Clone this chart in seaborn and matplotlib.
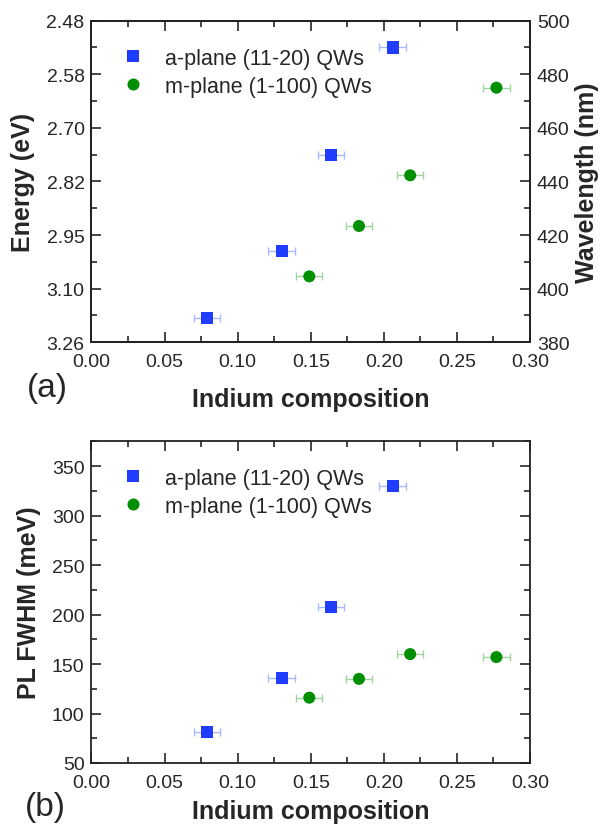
"""Emission energy / wavelength and PL FWHM versus indium composition
for a-plane and m-plane InGaN QWs."""
import matplotlib.pyplot as plt
import numpy as np
import pandas as pd
import seaborn as sns
from matplotlib.ticker import MultipleLocator

# data
a_x = [0.079, 0.130, 0.164, 0.206]
a_wl = [389.0, 414.0, 450.0, 490.0]
a_fwhm = [81, 136, 208, 330]
m_x = [0.149, 0.183, 0.218, 0.277]
m_wl = [404.6, 423.4, 442.3, 475.0]
m_fwhm = [116, 135, 160, 157]
x_err = 0.009
fwhm_err = 5

labels = ['a-plane (11-20) QWs', 'm-plane (1-100) QWs']
energy_ticks = ['2.48', '2.58', '2.70', '2.82', '2.95', '3.10', '3.26']
wl_ticks = [500, 480, 460, 440, 420, 400, 380]

blue = '#1f3cff'
green = '#008f00'
blue_err = '#aab8ff'
green_err = '#9fd49f'

df = pd.concat([
    pd.DataFrame({'x': a_x, 'wl': a_wl, 'fwhm': a_fwhm, 'sample': labels[0]}),
    pd.DataFrame({'x': m_x, 'wl': m_wl, 'fwhm': m_fwhm, 'sample': labels[1]}),
])

sns.set_style('ticks')
plt.rcParams['font.family'] = ['Liberation Sans', 'DejaVu Sans']
plt.rcParams['xtick.direction'] = 'in'
plt.rcParams['ytick.direction'] = 'in'

fig = plt.figure(figsize=(6.03, 8.28), dpi=100)
ax1 = fig.add_axes([0.1517, 0.5854, 0.7273, 0.3884])
ax2 = fig.add_axes([0.1517, 0.0773, 0.7273, 0.3885])

palette = {labels[0]: blue, labels[1]: green}
markers = {labels[0]: 's', labels[1]: 'o'}


def style_axis(ax, xpad):
    ax.set_xlim(0, 0.30)
    ax.xaxis.set_minor_locator(MultipleLocator(0.025))
    ax.set_xticks(np.arange(0, 0.301, 0.05))
    ax.set_xticklabels([f'{v:.2f}' for v in np.arange(0, 0.301, 0.05)])
    ax.tick_params(axis='both', which='major', length=7, width=1.2,
                   labelsize=14, top=True, pad=5)
    ax.tick_params(axis='x', which='major', pad=8)
    ax.tick_params(axis='both', which='minor', length=4, width=1.2, top=True)
    for s in ax.spines.values():
        s.set_linewidth(1.3)
        s.set_color('#222222')
    ax.set_xlabel('Indium composition', fontsize=18, fontweight='bold',
                  labelpad=xpad)


def legend(ax, top):
    ax.legend(loc='upper left', bbox_to_anchor=(0.046, top), frameon=False,
              fontsize=15.5, handletextpad=0.5, labelspacing=0.32,
              borderpad=0, borderaxespad=0)


# ---- panel (a): energy / wavelength
ax1.errorbar(a_x, a_wl, xerr=x_err, fmt='none', ecolor=blue_err,
             elinewidth=1, capsize=3, zorder=1)
ax1.errorbar(m_x, m_wl, xerr=x_err, fmt='none', ecolor=green_err,
             elinewidth=1, capsize=3, zorder=1)
sns.scatterplot(data=df, x='x', y='wl', hue='sample', style='sample',
                palette=palette, markers=markers, s=75, linewidth=0,
                ax=ax1, zorder=3)
ax1.set_ylim(380, 500)
ax1.set_yticks(wl_ticks)
ax1.set_yticklabels(energy_ticks)
ax1.yaxis.set_minor_locator(MultipleLocator(10))
style_axis(ax1, 12)
ax1.set_ylabel('Energy (eV)', fontsize=18, fontweight='bold', labelpad=8)
legend(ax1, 0.915)

ax1r = ax1.twinx()
ax1r.set_ylim(380, 500)
ax1r.yaxis.set_major_locator(MultipleLocator(20))
ax1r.yaxis.set_minor_locator(MultipleLocator(10))
ax1r.tick_params(axis='y', which='major', length=7, width=1.2,
                 labelsize=14, direction='in', pad=5)
ax1r.tick_params(axis='y', which='minor', length=4, width=1.2,
                 direction='in')
ax1r.set_ylabel('Wavelength (nm)', fontsize=18, fontweight='bold',
                labelpad=4)
for s in ax1r.spines.values():
    s.set_linewidth(1.3)
    s.set_color('#222222')

# ---- panel (b): PL FWHM
ax2.errorbar(a_x, a_fwhm, xerr=x_err, yerr=fwhm_err, fmt='none',
             ecolor=blue_err, elinewidth=1, capsize=3, zorder=1)
ax2.errorbar(m_x, m_fwhm, xerr=x_err, fmt='none', ecolor=green_err,
             elinewidth=1, capsize=3, zorder=1)
sns.scatterplot(data=df, x='x', y='fwhm', hue='sample', style='sample',
                palette=palette, markers=markers, s=75, linewidth=0,
                ax=ax2, zorder=3)
ax2.set_ylim(50, 375)
ax2.yaxis.set_major_locator(MultipleLocator(50))
ax2.yaxis.set_minor_locator(MultipleLocator(25))
style_axis(ax2, 6)
ax2.tick_params(axis='y', which='both', right=True)
ax2.set_ylabel('PL FWHM (meV)', fontsize=18, fontweight='bold', labelpad=8)
legend(ax2, 0.918)

# panel letters
fig.text(0.078, 0.531, '(a)', fontsize=24, ha='center', va='center')
fig.text(0.075, 0.025, '(b)', fontsize=24, ha='center', va='center')

plt.savefig('out.png', dpi=100)
plt.close()
